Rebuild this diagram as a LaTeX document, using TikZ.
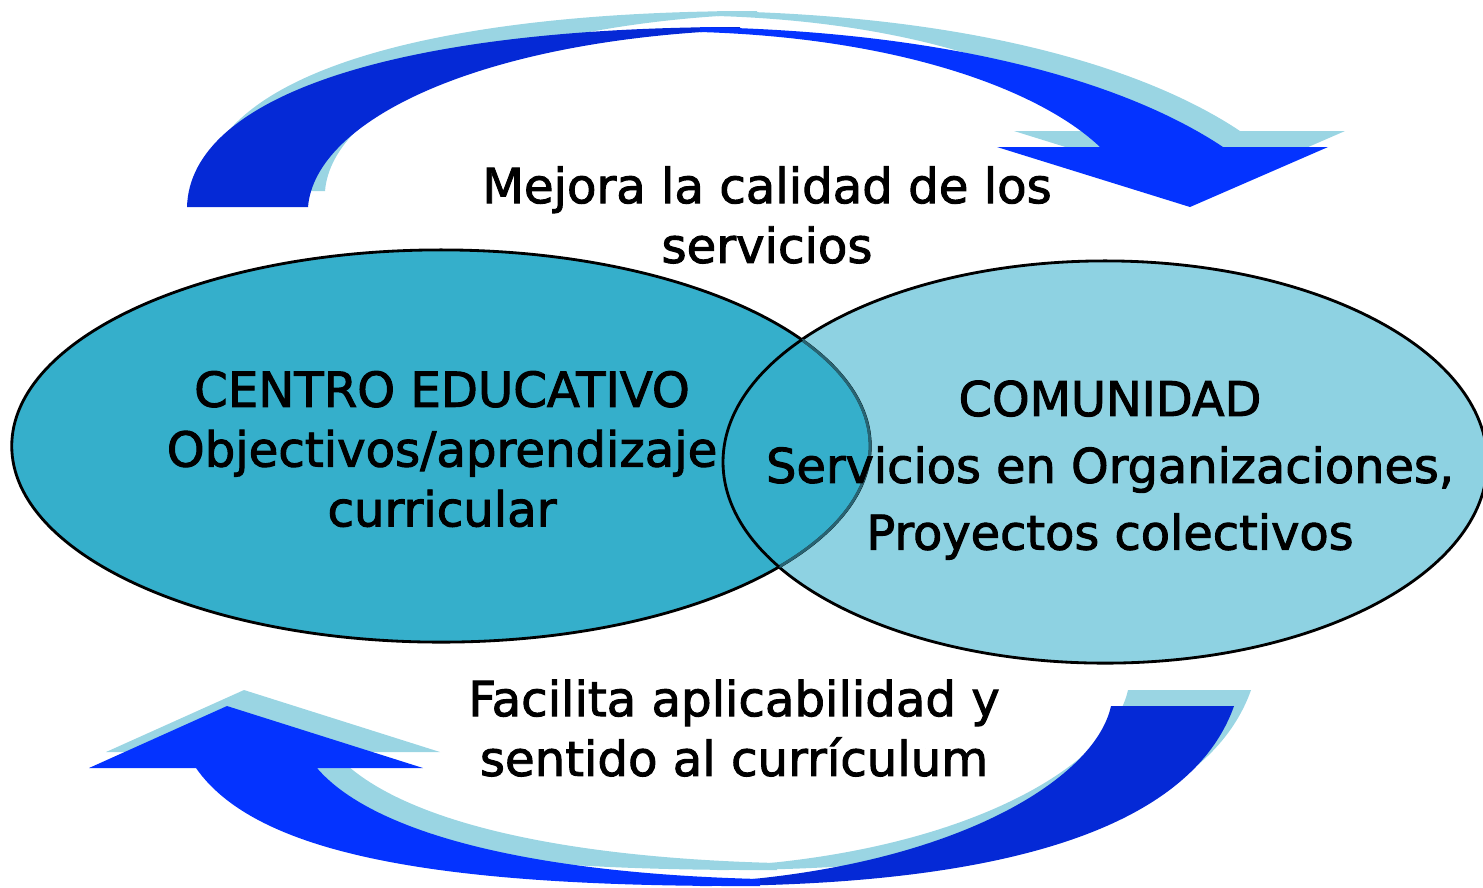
\documentclass[tikz,border=0pt]{standalone}
\usepackage{fontspec}
\setmainfont[FakeBold=2]{DejaVu Sans}
\usetikzlibrary{shapes.geometric}
\definecolor{backblue}{RGB}{5,41,214}
\definecolor{frontblue}{RGB}{4,51,255}
\definecolor{shadowblue}{RGB}{154,213,227}
\definecolor{centroteal}{RGB}{53,175,203}
\definecolor{comunidadteal}{RGB}{142,210,226}
\definecolor{lensline}{RGB}{40,100,115}
\begin{document}
\begin{tikzpicture}[x=0.01cm,y=-0.01cm,
        texto/.style={align=center,inner sep=0pt,font=\fontsize{13.7}{17}\selectfont},
        zona/.style={ellipse,draw=black,line width=0.8pt,inner sep=0pt}]
    \useasboundingbox (0,0) rectangle (1483,887);

    \foreach \dx/\dy/\cback/\cfront in {17/-16/shadowblue/shadowblue,0/0/backblue/frontblue} {
        \begin{scope}[shift={(\dx,\dy)}]
            \fill[\cback] (187,207) .. controls (190,95) and (400,27) .. (740,27)
                -- (740,30) .. controls (480,40) and (315,120) .. (308,207) -- cycle;
            \fill[\cfront] (700,27) .. controls (960,32) and (1130,85) .. (1223,147)
                -- (1328,147) -- (1190,207) -- (997,147) -- (1100,147)
                .. controls (1040,90) and (900,38) .. (700,32) -- cycle;
            \fill[\cback] (1234,706) .. controls (1190,830) and (1000,886) .. (700,886)
                -- (700,883) .. controls (950,870) and (1095,780) .. (1111,706) -- cycle;
            \fill[\cfront] (317,768) -- (423,768) -- (227,706) -- (89,768) -- (196,768)
                .. controls (260,860) and (460,887) .. (760,886)
                -- (760,879) .. controls (520,873) and (370,830) .. (317,768) -- cycle;
        \end{scope}
    }

    \node[zona,fill=comunidadteal,minimum width=7.64cm,minimum height=4.02cm] (comunidad) at (1105,462) {};
    \node[zona,fill=centroteal,minimum width=8.58cm,minimum height=3.92cm] (centro) at (441,446) {};
    \begin{scope}
        \clip (1105,462) ellipse [x radius=382, y radius=201];
        \draw[lensline,line width=0.8pt] (441,446) ellipse [x radius=429, y radius=196];
    \end{scope}
    \begin{scope}
        \clip (441,446) ellipse [x radius=429, y radius=196];
        \draw[black,line width=0.8pt] (1105,462) ellipse [x radius=382, y radius=201];
    \end{scope}

    \node[texto] (mejora) at (767,215) {Mejora la calidad de los\\servicios};
    \node[texto] (objetivos) at (442,449) {CENTRO EDUCATIVO\\Objectivos/aprendizaje\\curricular};
    \node[texto,font=\fontsize{13.6}{19}\selectfont] (servicios) at (1110,470) {COMUNIDAD\\Servicios en Organizaciones,\\Proyectos colectivos};
    \node[texto] (facilita) at (734,728) {Facilita aplicabilidad y\\sentido al currículum};
\end{tikzpicture}
\end{document}
